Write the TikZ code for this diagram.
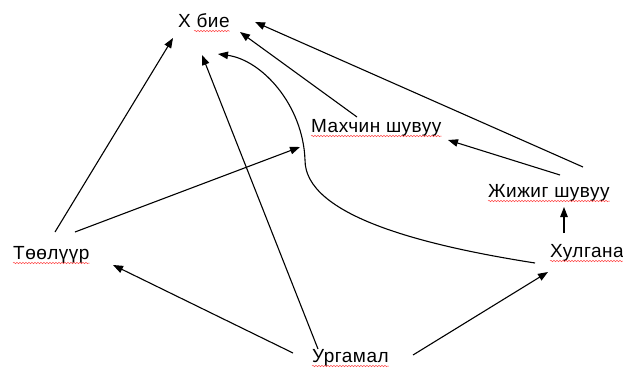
\documentclass[tikz,border=0pt]{standalone}
\usepackage{fontspec}
\setmainfont[LetterSpace=2.5]{Liberation Sans}
\usetikzlibrary{arrows.meta,decorations.pathmorphing}
\begin{document}
\begin{tikzpicture}[x=1pt,y=-1pt,
  lbl/.style={inner sep=0pt, anchor=base west, font=\fontsize{19}{21}\selectfont},
  arr/.style={line width=1.1pt, -{Triangle[length=10pt,width=7.5pt]}},
  wavy/.style={red!70, line width=0.5pt, decorate,
    decoration={snake, amplitude=0.7pt, segment length=3pt}}]
\useasboundingbox[fill=white] (0,0) rectangle (623,367);
% labels
\node[lbl] (xbie) at (178,27) {Х бие};
\node[lbl] (mah)  at (311,132) {Махчин шувуу};
\node[lbl] (jij)  at (488,197) {Жижиг шувуу};
\node[lbl] (hul)  at (550,257) {Хулгана};
\node[lbl] (teel) at (13,259) {Төөлүүр};
\node[lbl] (urg)  at (312,362) {Ургамал};
% spell-check underlines
\draw[wavy] ([xshift=16pt,yshift=-4pt]xbie.base west) -- ([yshift=-4pt]xbie.base east);
\foreach \n in {mah,jij,hul,teel,urg}
  \draw[wavy] ([yshift=-4pt]\n.base west) -- ([yshift=-4pt]\n.base east);
% connector ends
\coordinate (xb1) at (173,38);
\coordinate (xb2) at (202,55);
\coordinate (xb3) at (218,54);
\coordinate (xb4) at (240,32);
\coordinate (xb5) at (255,22);
\coordinate (mh1) at (300,147);
\coordinate (mh2) at (448,140);
\coordinate (mh3) at (357,117);
\coordinate (jj1) at (564,207);
\coordinate (jj2) at (560,175);
\coordinate (jj3) at (583,167);
\coordinate (hl1) at (548,272);
\coordinate (hl2) at (564,233);
\coordinate (hl3) at (535,263);
\coordinate (te1) at (55,232);
\coordinate (te2) at (75,232);
\coordinate (te3) at (113,265);
\coordinate (ur1) at (318,349);
\coordinate (ur2) at (293,353);
\coordinate (ur3) at (413,355);
% connectors
\draw[arr] (te1) -- (xb1);
\draw[arr] (te2) -- (mh1);
\draw[arr] (ur1) -- (xb2);
\draw[arr] (ur2) -- (te3);
\draw[arr] (ur3) -- (hl1);
\draw[arr] (hl2) -- (jj1);
\draw[arr] (jj2) -- (mh2);
\draw[arr] (jj3) -- (xb5);
\draw[arr] (mh3) -- (xb4);
\draw[arr] (hl3) .. controls (420,245) and (305,215) .. (305,160)
               .. controls (303,105) and (262,60) .. (xb3);
\end{tikzpicture}
\end{document}
